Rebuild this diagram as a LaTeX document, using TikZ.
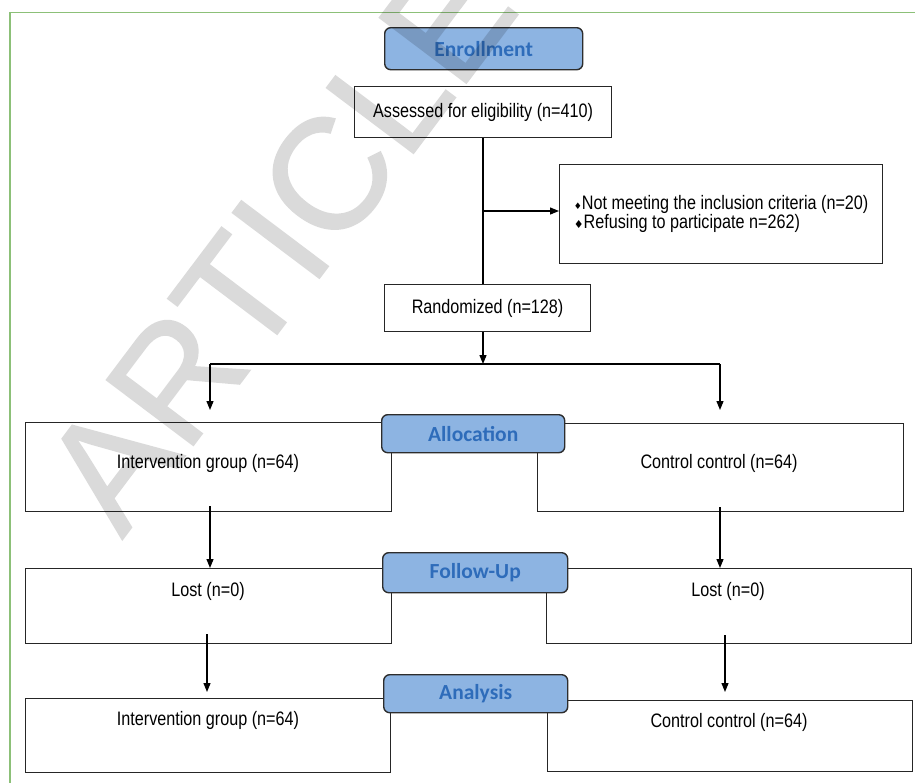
\documentclass[tikz,border=0pt]{standalone}
\usepackage{fontspec}
\setmainfont{Liberation Sans}[FakeStretch=0.83]
\newfontfamily\hdrfont{Carlito}
\newfontfamily\symfont{DejaVu Sans}
\newfontfamily\wmfont{Liberation Sans}[FakeBold=1]
\usetikzlibrary{arrows.meta,calc}
\definecolor{hdrfill}{RGB}{141,180,226}
\definecolor{hdrtext}{RGB}{46,108,186}
\definecolor{hdrdraw}{RGB}{45,45,45}
\definecolor{gborder}{RGB}{140,192,120}
\begin{document}
\begin{tikzpicture}[x=1pt,y=-1pt,
  box/.style={draw=black!85, line width=1.2pt, fill=white, inner sep=0pt, anchor=north west,
              font=\fontsize{19.5}{19.5}\selectfont},
  hdr/.style={draw=hdrdraw, line width=1.4pt, fill=hdrfill, rounded corners=6pt, text=hdrtext,
              font=\hdrfont\bfseries\fontsize{21.5}{24}\selectfont, inner sep=0pt, anchor=north west},
  txt/.style={inner sep=0pt, font=\fontsize{19.5}{19.5}\selectfont},
  ln/.style={draw=black, line width=1.2pt},
  arr/.style={draw=black, line width=1.2pt, -{Triangle[length=9pt,width=7pt]}},
  wmark/.style={rotate=53, anchor=base west, inner sep=0pt, text=black,
              font=\wmfont\fontsize{158}{158}\selectfont}
]
\useasboundingbox (0,0) rectangle (915,782);
\fill[white] (0,0) rectangle (915,782);
% green frame
\draw[gborder, line width=1.6pt] (10,790) -- (10,12.5) -- (920,12.5);

% enrollment
\node[box, minimum width=257, minimum height=51] (assess) at (354,86) {Assessed for eligibility (n=410)};
\node[box, minimum width=323, minimum height=99, align=left] (excl) at (559,164)
  {{\symfont\fontsize{9}{9}\selectfont ♦}Not meeting the inclusion criteria (n=20)\\
   {\symfont\fontsize{11}{11}\selectfont ♦}Refusing to participate n=262)};
\node[box, minimum width=206, minimum height=47] (rand) at (384,284) {Randomized (n=128)};
\node[hdr, minimum width=198, minimum height=42] (enroll) at (384,27) {Enrollment};

% allocation row
\node[box, minimum width=366, minimum height=89] (intA) at (25,422) {};
\node[box, minimum width=366, minimum height=88] (conA) at (537,423) {};
\node[txt] (intAt) at (208,463) {Intervention group (n=64)};
\node[txt] (conAt) at (719,463) {Control control (n=64)};
\node[hdr, minimum width=183, minimum height=38] (alloc) at (381,414) {Allocation};

% follow-up row
\node[box, minimum width=366, minimum height=75] (lostL) at (25,568) {};
\node[box, minimum width=365, minimum height=75] (lostR) at (546,568) {};
\node[txt] (lostLt) at (208,591) {Lost (n=0)};
\node[txt] (lostRt) at (728,591) {Lost (n=0)};
\node[hdr, minimum width=185, minimum height=40] (follow) at (382,552) {Follow-Up};

% analysis row
\node[box, minimum width=365, minimum height=74] (anaL) at (25,698) {};
\node[box, minimum width=365, minimum height=71] (anaR) at (547,700) {};
\node[txt] (anaLt) at (208,720) {Intervention group (n=64)};
\node[txt] (anaRt) at (729,722) {Control control (n=64)};
\node[hdr, minimum width=184, minimum height=38] (analysis) at (383,674) {Analysis};

% connectors
\coordinate (xC) at (483,0);
\coordinate (br) at (483,211);
\coordinate (split) at (483,364);
\coordinate (splitL) at (210,364);
\coordinate (splitR) at (720,364);
\coordinate (tipL) at (210,410);
\coordinate (tipR) at (720,410);
\coordinate (xL1) at (210,0);
\coordinate (xR1) at (720,0);
\coordinate (xL2) at (207,0);
\coordinate (xR2) at (725,0);
\coordinate (tipL2) at (207,692);
\coordinate (tipR2) at (725,692);

\draw[ln] (assess.south -| xC) -- (rand.north -| xC);
\draw[arr] (br) -- (excl.west |- br);
\draw[arr] (rand.south -| xC) -- (split);
\draw[ln] (splitL) -- (splitR);
\draw[arr] (splitL) -- (tipL);
\draw[arr] (splitR) -- (tipR);
\draw[arr] ($(intA.south -| xL1)+(0,-6)$) -- (lostL.north -| xL1);
\draw[arr] ($(conA.south -| xR1)+(0,-5)$) -- (lostR.north -| xR1);
\draw[arr] ($(lostL.south -| xL2)+(0,-10)$) -- (tipL2);
\draw[arr] ($(lostR.south -| xR2)+(0,-9)$) -- (tipR2);

% watermark
\begin{scope}[transparency group, opacity=0.145]
\clip (0,0) rectangle (915,782);
\node[wmark] (wm) at (122,540) {ARTICLE IN PRESS};
\end{scope}
\end{tikzpicture}
\end{document}
